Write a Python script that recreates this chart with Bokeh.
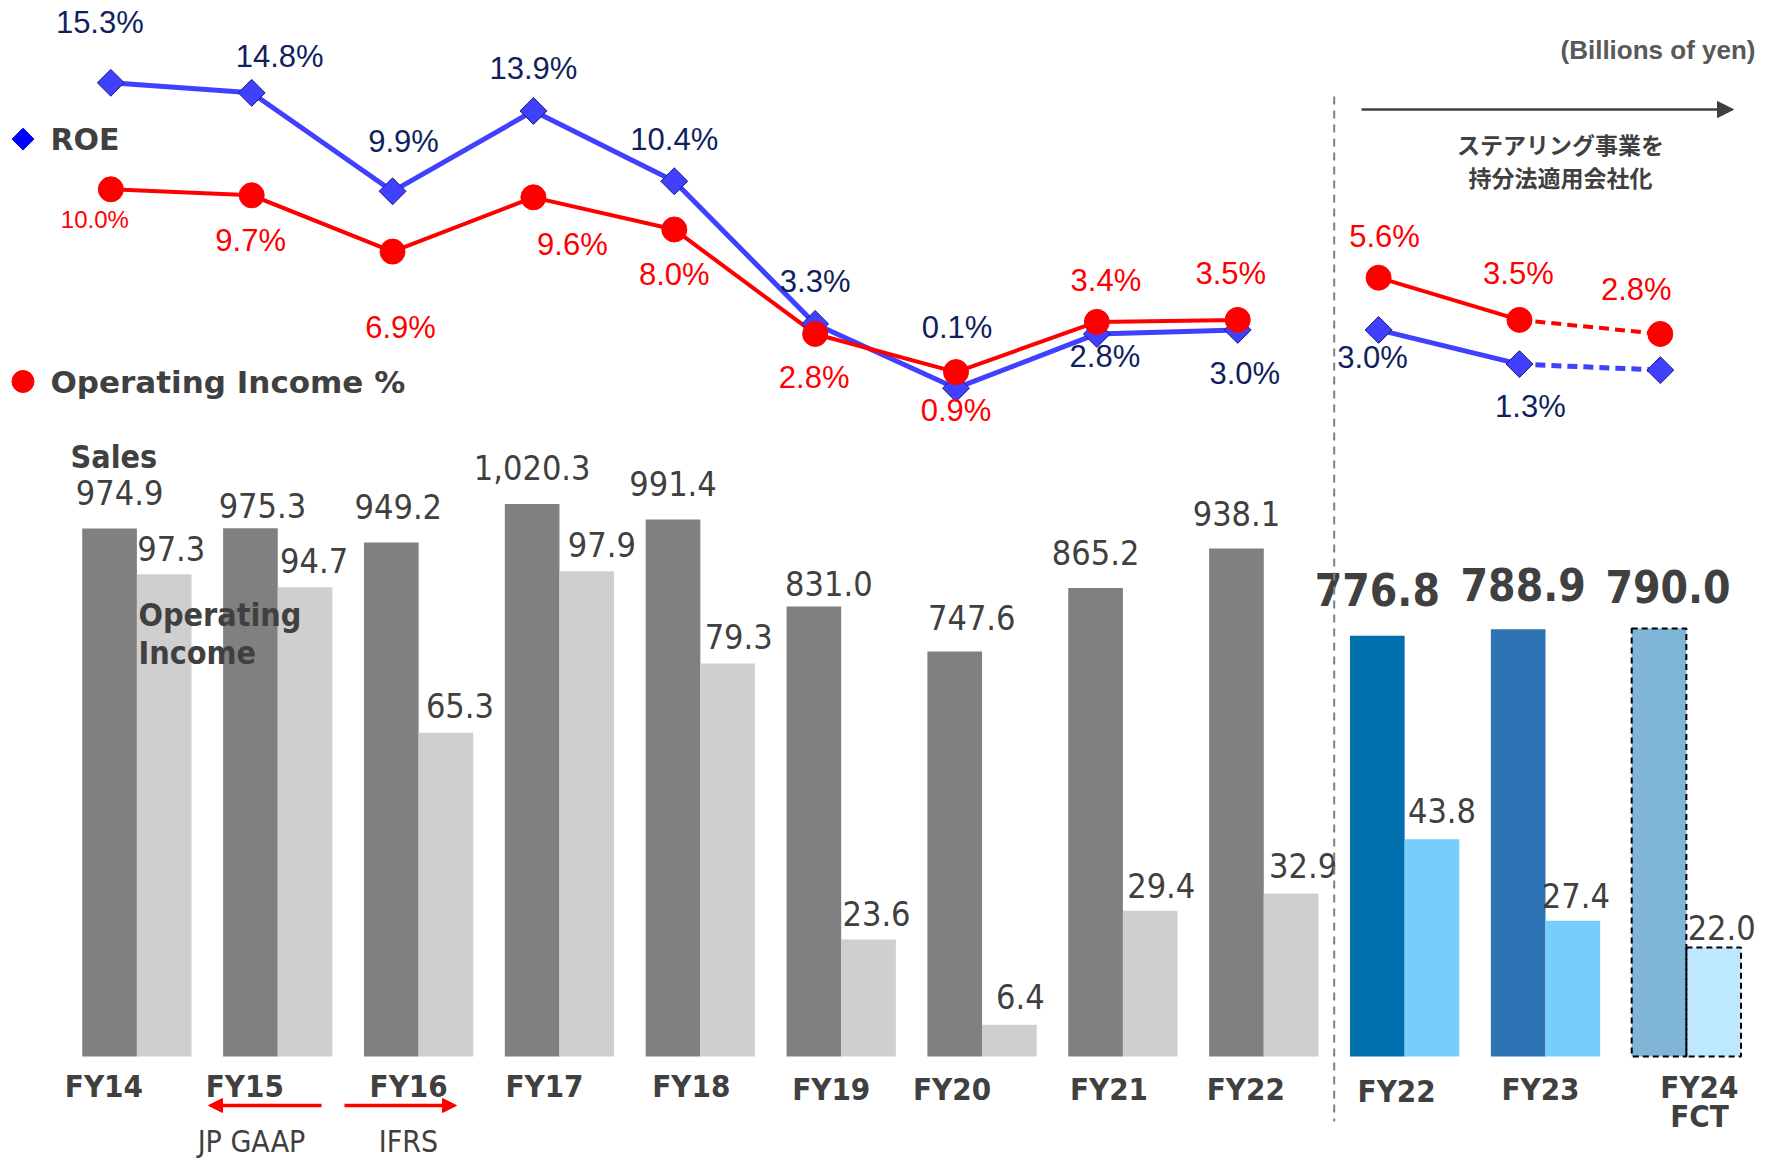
import numpy as np
from bokeh.plotting import figure
from bokeh.models import ColumnDataSource, Range1d, Arrow, NormalHead, Label, CDSView, IndexFilter
from bokeh.core.properties import value
from bokeh.embed import file_html
from bokeh.resources import INLINE

# ---------------- data ----------------
years = ["FY14", "FY15", "FY16", "FY17", "FY18", "FY19", "FY20", "FY21", "FY22", "FY22", "FY23", "FY24"]
sales = [974.9, 975.3, 949.2, 1020.3, 991.4, 831.0, 747.6, 865.2, 938.1, 776.8, 788.9, 790.0]
op_income = [97.3, 94.7, 65.3, 97.9, 79.3, 23.6, 6.4, 29.4, 32.9, 43.8, 27.4, 22.0]
roe = [15.3, 14.8, 9.9, 13.9, 10.4, 3.3, 0.1, 2.8, 3.0, 3.0, 1.3, 1.0]
op_margin = [10.0, 9.7, 6.9, 9.6, 8.0, 2.8, 0.9, 3.4, 3.5, 5.6, 3.5, 2.8]
roe_labelled = [True] * 11 + [False]

# ---------------- styling / layout ----------------
W, H = 1767, 1158
PX0, PXS = 136.4, 140.86      # page px of group 0 centre, px per group
PY0, PYS = 389.7, 20.09       # page px of 0 %, px per %
SY0, SS = 1055.9, 0.5415      # bar baseline, px per billion yen (sales)
OS = 4.955                    # px per billion yen (operating income)
BW = 0.388
DARK_OFF = -0.194
LIGHT_OFF = 0.194
PT_OFF = -0.185


def fx(px):
    return (px - PX0) / PXS


def fy(py):
    return (PY0 - py) / PYS


GRAY_TXT = "#404040"
NAVY = "#101F5E"
RED = "#FF0000"
ROE_BLUE = "#4040FF"
NUM_FONT = "DejaVu Sans Condensed"
PCT_FONT = "Liberation Sans"

sales_colors = ["#808080"] * 9 + ["#006FAD", "#2E74B5", "#7FB5D6"]
oi_colors = ["#CFCFCF"] * 9 + ["#76CEFF", "#76CEFF", "#BDE8FF"]

idx = np.arange(len(years))

p = figure(width=W, height=H, output_backend="svg", toolbar_location=None,
           x_range=Range1d(fx(0), fx(W)), y_range=Range1d(fy(H), fy(0)),
           x_axis_location=None, y_axis_location=None, min_border=0)
p.extra_y_ranges = {
    "sales": Range1d((SY0 - H) / SS, SY0 / SS),
    "oi": Range1d((SY0 - H) / OS, SY0 / OS),
}
p.grid.visible = False
p.outline_line_color = None
p.background_fill_color = "white"
p.border_fill_color = "white"

bars = ColumnDataSource(dict(
    xd=idx + DARK_OFF, xl=idx + LIGHT_OFF, sales=sales, oi=op_income,
    sc=sales_colors, oc=oi_colors,
    slab=[f"{v:,.1f}" for v in sales], olab=[f"{v:.1f}" for v in op_income],
))

p.vbar(x="xd", top="sales", bottom=0, width=BW, fill_color="sc", line_color=None,
       source=bars, y_range_name="sales")
p.vbar(x="xl", top="oi", bottom=0, width=BW, fill_color="oc", line_color=None,
       source=bars, y_range_name="oi")
fct = CDSView(filter=IndexFilter([11]))
p.vbar(x="xd", top="sales", bottom=0, width=BW, fill_color=None, line_color="black",
       line_width=2, line_dash="6 4", source=bars, view=fct, y_range_name="sales")
p.vbar(x="xl", top="oi", bottom=0, width=BW, fill_color=None, line_color="black",
       line_width=2, line_dash="6 4", source=bars, view=fct, y_range_name="oi")

# bar value labels
sales_dx = [10, 12, 7, 0, 0, 15, 17, 0, 0, 0, 5, 9]
sales_dy = [36, 23, 36, 36, 36, 23, 34, 35, 35, 46, 45, 42]
oi_dx = [7, 9, 14, 15, 11, 8, 11, 11, 12, 10, 3, 8]
oi_dy = [26, 27, 27, 27, 27, 26, 28, 25, 28, 29, 25, 20]
bars.data["sdx"] = sales_dx
bars.data["sdy"] = [-d for d in sales_dy]
bars.data["odx"] = oi_dx
bars.data["ody"] = [-d for d in oi_dy]

normal = CDSView(filter=IndexFilter(list(range(9))))
newseg = CDSView(filter=IndexFilter([9, 10, 11]))
p.text(x="xd", y="sales", text="slab", x_offset="sdx", y_offset="sdy", source=bars, view=normal,
       y_range_name="sales", text_align="center", text_baseline="middle",
       text_font=value(NUM_FONT), text_font_size="34px", text_color=GRAY_TXT)
p.text(x="xd", y="sales", text="slab", x_offset="sdx", y_offset="sdy", source=bars, view=newseg,
       y_range_name="sales", text_align="center", text_baseline="middle",
       text_font=value(NUM_FONT), text_font_style="bold", text_font_size="44px", text_color=GRAY_TXT)
p.text(x="xl", y="oi", text="olab", x_offset="odx", y_offset="ody", source=bars,
       y_range_name="oi", text_align="center", text_baseline="middle",
       text_font=value(NUM_FONT), text_font_size="34px", text_color=GRAY_TXT)

# ---------------- lines ----------------
xp = list(idx + PT_OFF)
segments = [(0, 9, "solid"), (9, 11, "solid"), (10, 12, "dashed")]
for a, b, dash in segments:
    ld = "solid" if dash == "solid" else "10 6"
    p.line(xp[a:b], roe[a:b], line_color=ROE_BLUE, line_width=5, line_dash=ld)
    p.line(xp[a:b], op_margin[a:b], line_color=RED, line_width=4, line_dash=ld)

pts = ColumnDataSource(dict(x=xp, roe=roe, om=op_margin))
p.scatter(x="x", y="roe", source=pts, marker="square", angle=np.pi / 4, size=19,
          fill_color=ROE_BLUE, line_color="#1A1A80", line_width=1)
p.scatter(x="x", y="om", source=pts, marker="circle", size=25,
          fill_color=RED, line_color=RED)

roe_dx = [-11, 28, 11, 0, 0, 0, 1, 8, 7, -6, 11, 0]
roe_dy = [-60, -36, -50, -42, -42, -42, -61, 23, 44, 28, 42, 0]
om_dx = [-16, -1, 8, 39, 0, -1, 0, 9, -7, 6, -1, -24]
om_dy = [30, 45, 76, 47, 45, 44, 38, -41, -46, -41, -46, -44]
pct = ColumnDataSource(dict(
    x=xp, roe=roe, om=op_margin,
    rl=[f"{v:.1f}%" if show else "" for v, show in zip(roe, roe_labelled)],
    ol=[f"{v:.1f}%" for v in op_margin],
    rdx=roe_dx, rdy=roe_dy, odx=om_dx, ody=om_dy,
    osz=["24px"] + ["31px"] * 11,
))
p.text(x="x", y="roe", text="rl", x_offset="rdx", y_offset="rdy", source=pct,
       text_align="center", text_baseline="middle", text_font=value(PCT_FONT),
       text_font_size="31px", text_color=NAVY)
p.text(x="x", y="om", text="ol", x_offset="odx", y_offset="ody", source=pct,
       text_align="center", text_baseline="middle", text_font=value(PCT_FONT),
       text_font_size="osz", text_color=RED)

# ---------------- category labels ----------------
xl_dx = [-33, -33, -10, -15, -9, -10, -30, -14, -18, -8, -5, 13]
xl_dy = [0, 0, 0, 0, 0, 3, 3, 3, 3, 5, 3, 1]
cats = ColumnDataSource(dict(x=list(idx), y=[fy(1085)] * len(years), t=years, dx=xl_dx, dy=xl_dy))
p.text(x="x", y="y", text="t", x_offset="dx", y_offset="dy", source=cats,
       text_align="center", text_baseline="middle", text_font=value(NUM_FONT),
       text_font_style="bold", text_font_size="31px", text_color=GRAY_TXT)
p.add_layout(Label(x=fx(1699), y=fy(1115), text="FCT", text_align="center", text_baseline="middle",
                   text_font=NUM_FONT, text_font_style="bold", text_font_size="31px",
                   text_color=GRAY_TXT))

# ---------------- annotations ----------------
def lab(px, py, text, size, font=NUM_FONT, style="bold", color=GRAY_TXT, align="left",
        baseline="middle"):
    p.add_layout(Label(x=fx(px), y=fy(py), text=text, text_align=align, text_baseline=baseline,
                       text_font=font, text_font_style=style, text_font_size=size,
                       text_color=color))


p.scatter([fx(22.5)], [fy(138.6)], marker="square", angle=np.pi / 4, size=15.5,
          fill_color="#0000FF", line_color="#0000FF")
p.scatter([fx(22.5)], [fy(381)], marker="circle", size=22, fill_color=RED, line_color=RED)
lab(50, 139, "ROE", "30px", font="DejaVu Sans")
lab(50, 381, "Operating Income %", "31px", font="DejaVu Sans")
lab(70, 456, "Sales", "32px")
lab(138, 614, "Operating", "32px")
lab(138, 652, "Income", "32px")
lab(1755, 49, "(Billions of yen)", "26px", font=PCT_FONT, color="#595959", align="right")
lab(1560, 143, "ステアリング事業を", "23px", font="Noto Sans CJK JP", align="center")
lab(1560, 176, "持分法適用会社化", "23px", font="Noto Sans CJK JP", align="center")
lab(251, 1141, "JP GAAP", "30px", style="normal", align="center")
lab(408, 1141, "IFRS", "30px", style="normal", align="center")

# divider
p.segment(x0=[8.5], y0=[fy(96)], x1=[8.5], y1=[fy(1121)], line_color="#808080",
          line_width=2, line_dash="8 6")

# arrows
p.add_layout(Arrow(end=NormalHead(size=16, fill_color=GRAY_TXT, line_color=GRAY_TXT),
                   x_start=fx(1361), y_start=fy(109), x_end=fx(1733), y_end=fy(109),
                   line_color=GRAY_TXT, line_width=2.5))
p.add_layout(Arrow(end=NormalHead(size=14, fill_color=RED, line_color=RED),
                   x_start=fx(321), y_start=fy(1105), x_end=fx(208), y_end=fy(1105),
                   line_color=RED, line_width=3.5))
p.add_layout(Arrow(end=NormalHead(size=14, fill_color=RED, line_color=RED),
                   x_start=fx(344), y_start=fy(1105), x_end=fx(456), y_end=fy(1105),
                   line_color=RED, line_width=3.5))

open("out.html", "w").write(file_html(p, INLINE))
